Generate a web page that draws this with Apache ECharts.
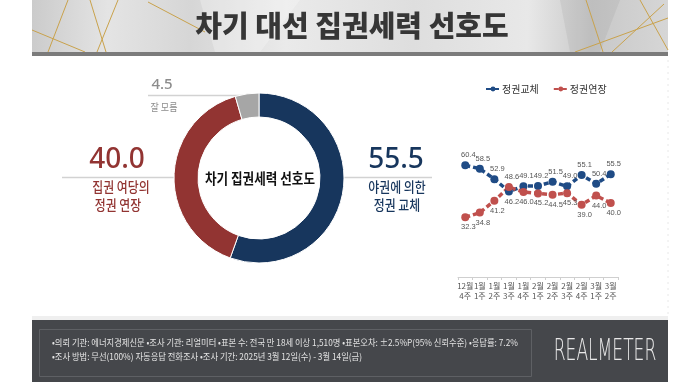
<!DOCTYPE html>
<html><head><meta charset="utf-8">
<script src="https://cdn.jsdelivr.net/npm/echarts/dist/echarts.min.js"></script>
<style>html,body{margin:0;padding:0;background:#fff}#c{width:700px;height:390px}</style>
</head><body><div id="c"></div>
<script>
// ---- data ----
const titleText = '차기 대선 집권세력 선호도';
const donutCenterLabel = '차기 집권세력 선호도';
const donutNames = ['야권에 의한 정권 교체', '집권 여당의 정권 연장', '잘 모름'];
const donutValues = [55.5, 40.0, 4.5];
const donutLabelLines = [['야권에 의한', '정권 교체'], ['집권 여당의', '정권 연장'], ['잘 모름']];
const weeks = ['12월\n4주', '1월\n1주', '1월\n2주', '1월\n3주', '1월\n4주', '2월\n1주', '2월\n2주', '2월\n3주', '2월\n4주', '3월\n1주', '3월\n2주'];
const seriesNames = ['정권교체', '정권연장'];
const changeValues = [60.4, 58.5, 52.9, 46.2, 49.1, 49.2, 51.5, 49.0, 55.1, 50.4, 55.5];
const extendValues = [32.3, 34.8, 41.2, 48.6, 46.0, 45.2, 44.5, 45.3, 39.0, 44.0, 40.0];
const footerLines = [
  '•의뢰 기관: 에너지경제신문 •조사 기관: 리얼미터 •표본 수: 전국 만 18세 이상 1,510명 •표본오차: ±2.5%P(95% 신뢰수준) •응답률: 7.2%',
  '•조사 방법: 무선(100%) 자동응답 전화조사 •조사 기간: 2025년 3월 12일(수) - 3월 14일(금)'
];
const brandText = 'REALMETER';

// ---- styles ----
const KR = '"Noto Sans CJK KR", "Noto Sans", sans-serif';
const NAVY = '#17365d', RED = '#923432', GRAY = '#a6a6a6';
const LBLUE = '#1f4b85', LRED = '#c0504d';

const chart = echarts.init(document.getElementById('c'), null, {renderer: 'canvas'});

function txt(x, y, text, size, color, opts) {
  opts = opts || {};
  return {type: 'text', x: x, y: y, silent: true, scaleX: opts.scaleX || 1, scaleY: opts.scaleY || 1,
    style: {text: text, fill: color, fontSize: size, fontWeight: opts.weight || 'normal',
      fontFamily: opts.family || KR, align: opts.align || 'center', verticalAlign: 'middle'}};
}

const gold = (x1, y1, x2, y2) => ({type: 'line', silent: true, shape: {x1, y1, x2, y2}, style: {stroke: '#c9a24c', lineWidth: 1}});

const graphic = [
  {type: 'rect', silent: true, shape: {x: 32, y: 0, width: 636, height: 52},
    style: {fill: new echarts.graphic.LinearGradient(0, 0, 1, 0.3, [
      {offset: 0, color: '#cbcbcb'}, {offset: 0.12, color: '#e4e4e4'}, {offset: 0.25, color: '#d6d6d6'},
      {offset: 0.4, color: '#eaeaea'}, {offset: 0.6, color: '#dedede'}, {offset: 0.78, color: '#e8e8e8'},
      {offset: 0.88, color: '#c8c8c8'}, {offset: 1, color: '#d6d6d6'}])}},
  {type: 'polygon', silent: true, shape: {points: [[200, 0], [300, 0], [260, 52], [215, 52]]}, style: {fill: 'rgba(255,255,255,0.25)'}},
  {type: 'polygon', silent: true, shape: {points: [[560, 0], [620, 0], [600, 52], [570, 52]]}, style: {fill: 'rgba(120,120,120,0.12)'}},
  gold(68, 0, 48, 52), gold(90, 0, 106, 52), gold(118, 0, 97, 52), gold(32, 30, 85, 52), gold(148, 2, 205, 32),
  gold(586, 0, 603, 52), gold(612, 52, 664, 4), gold(640, 0, 668, 50), gold(575, 52, 668, 18),
  {type: 'rect', silent: true, shape: {x: 32, y: 52, width: 636, height: 4}, style: {fill: '#7b7b7b'}},
  txt(352, 26, titleText, 29, '#363636', {weight: 900}),
  // faint right dashed line
  {type: 'line', silent: true, shape: {x1: 668, y1: 60, x2: 668, y2: 314}, style: {stroke: '#e8e8e8', lineWidth: 1, lineDash: [2, 4]}},
  // donut annotation lines
  {type: 'line', silent: true, shape: {x1: 148, y1: 95.5, x2: 258, y2: 95.5}, style: {stroke: '#d2d2d2', lineWidth: 1.5}},
  {type: 'line', silent: true, shape: {x1: 62, y1: 177.5, x2: 175, y2: 177.5}, style: {stroke: '#d2d2d2', lineWidth: 1.5}},
  {type: 'line', silent: true, shape: {x1: 343, y1: 177.5, x2: 432, y2: 177.5}, style: {stroke: '#d2d2d2', lineWidth: 1.5}},
  // donut annotation texts
  txt(162, 85, donutValues[2].toFixed(1), 15, '#8c8c8c', {weight: 500, family: '"Noto Sans", sans-serif'}),
  txt(164, 107, donutLabelLines[2][0], 10, '#8c8c8c', {scaleX: 0.9}),
  txt(117, 160, donutValues[1].toFixed(1), 28, RED, {weight: 500, family: '"Noto Sans", sans-serif'}),
  txt(121, 187, donutLabelLines[1][0], 14, RED, {weight: 500, scaleX: 0.85}),
  txt(118, 205, donutLabelLines[1][1], 14, RED, {weight: 500, scaleX: 0.85}),
  txt(396, 160, donutValues[0].toFixed(1), 28, NAVY, {weight: 500, family: '"Noto Sans", sans-serif'}),
  txt(397, 187, donutLabelLines[0][0], 14, NAVY, {weight: 500, scaleX: 0.85}),
  txt(397, 205, donutLabelLines[0][1], 14, NAVY, {weight: 500, scaleX: 0.85}),
  txt(260, 178, donutCenterLabel, 15, '#111', {weight: 'bold', scaleX: 0.84}),
  // footer
  {type: 'rect', silent: true, shape: {x: 32, y: 316, width: 636, height: 4}, style: {fill: '#efefef'}},
  {type: 'rect', silent: true, shape: {x: 32, y: 320, width: 636, height: 62}, style: {fill: '#45474b'}},
  {type: 'rect', silent: true, shape: {x: 39.5, y: 329.5, width: 492, height: 47}, style: {fill: 'none', stroke: '#5e6064', lineWidth: 1}},
  txt(52, 343, footerLines[0], 9, '#e4e4e4', {align: 'left', scaleX: 0.92}),
  txt(52, 357, footerLines[1], 9, '#e4e4e4', {align: 'left', scaleX: 0.92}),
  txt(605, 352, brandText, 30, '#e8e8e8', {weight: 200, family: '"DejaVu Sans", sans-serif', scaleX: 0.57})
];

function lineData(vals, other, above) {
  return vals.map((v, i) => {
    const top = above ? v >= other[i] : v > other[i];
    return {value: v, label: {position: top ? 'top' : 'bottom'}};
  });
}

const option = {
  animation: false,
  backgroundColor: '#fff',
  legend: {
    data: seriesNames, left: 485, top: 84, padding: 0, itemWidth: 14, itemHeight: 6, itemGap: 14,
    textStyle: {fontSize: 10, color: '#333', fontFamily: KR, padding: [0, 0, 0, -3]}
  },
  grid: {left: 458, top: 147.5, width: 160, height: 129.5, containLabel: false},
  xAxis: {
    type: 'category', data: weeks, boundaryGap: true,
    axisLine: {lineStyle: {color: '#cfcfcf'}},
    axisTick: {show: true, length: 3, lineStyle: {color: '#cfcfcf'}},
    axisLabel: {interval: 0, fontSize: 8, lineHeight: 10, color: '#555', margin: 4, fontFamily: KR}
  },
  yAxis: {type: 'value', min: 0, max: 70, show: false, splitLine: {show: false}},
  series: [
    {
      type: 'pie', center: [259, 178], radius: [61, 85], startAngle: 90, clockwise: true, silent: true,
      label: {show: false}, labelLine: {show: false},
      itemStyle: {borderColor: '#fff', borderWidth: 1},
      data: donutNames.map((n, i) => ({name: n, value: donutValues[i], itemStyle: {color: [NAVY, RED, GRAY][i]}}))
    },
    {
      name: seriesNames[0], type: 'line', data: lineData(changeValues, extendValues, true),
      symbol: 'circle', symbolSize: 8, color: LBLUE,
      lineStyle: {width: 3.5, type: [5, 3], color: LBLUE}, itemStyle: {color: LBLUE},
      label: {show: true, fontSize: 7.5, color: '#555', distance: 2, offset: [3, 0], formatter: p => p.value.toFixed(1)}
    },
    {
      name: seriesNames[1], type: 'line', data: lineData(extendValues, changeValues, false),
      symbol: 'circle', symbolSize: 8, color: LRED,
      lineStyle: {width: 3.5, type: [5, 3], color: LRED}, itemStyle: {color: LRED},
      label: {show: true, fontSize: 7.5, color: '#555', distance: 2, offset: [3, 0], formatter: p => p.value.toFixed(1)}
    }
  ],
  graphic: graphic
};
chart.setOption(option);
</script>
</body></html>
